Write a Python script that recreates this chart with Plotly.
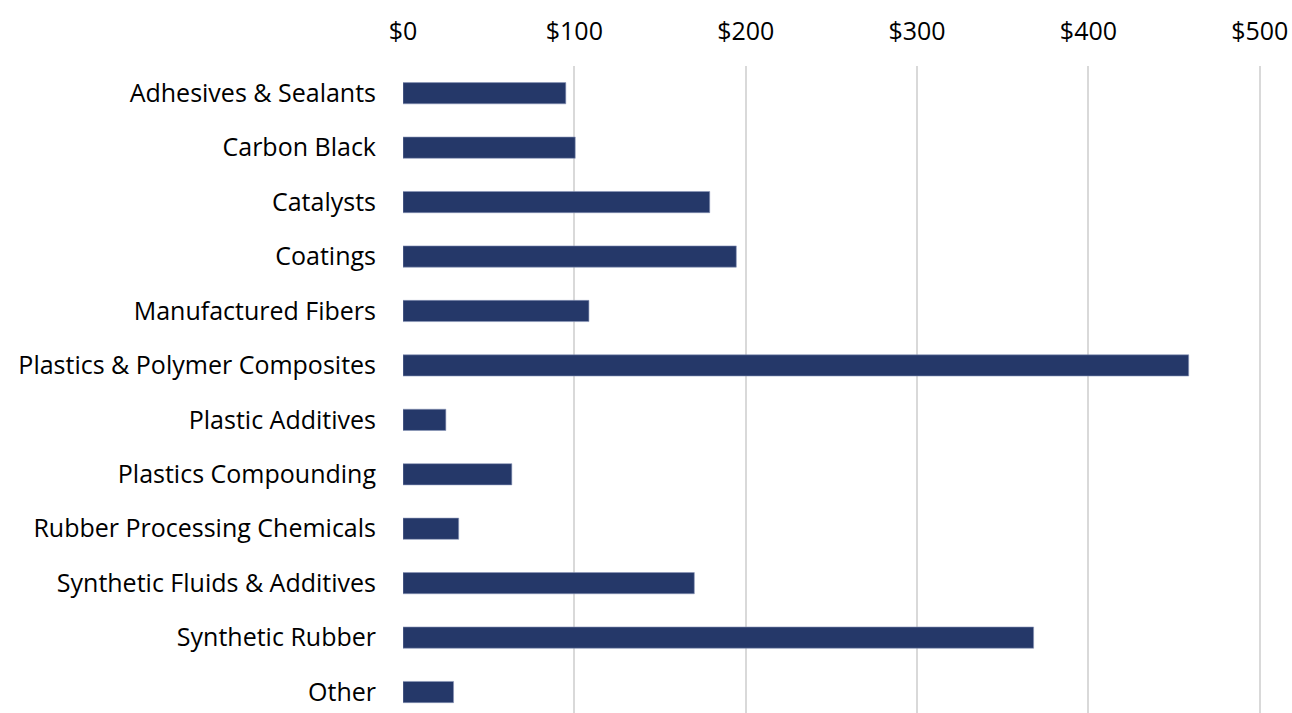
import plotly.graph_objects as go

categories = ["Adhesives & Sealants", "Carbon Black", "Catalysts", "Coatings",
              "Manufactured Fibers", "Plastics & Polymer Composites", "Plastic Additives",
              "Plastics Compounding", "Rubber Processing Chemicals",
              "Synthetic Fluids & Additives", "Synthetic Rubber", "Other"]
values = [95, 100.5, 179, 194.5, 108.5, 458.5, 25, 63.5, 32.5, 170, 368, 29.5]
tick_vals = [0, 100, 200, 300, 400, 500]
tick_text = ["$0", "$100", "$200", "$300", "$400", "$500"]

fig = go.Figure(go.Bar(
    y=categories, x=values, orientation="h",
    marker=dict(color="#253869", line=dict(color="#8a96b8", width=0.6)),
    width=0.39,
))

fig.update_layout(
    width=1292, height=713,
    margin=dict(l=403, r=31, t=66, b=0),
    paper_bgcolor="white", plot_bgcolor="white",
    font=dict(family="Open Sans", size=25, color="#000000"),
    showlegend=False,
    xaxis=dict(side="top", range=[0, 500.7], tickvals=tick_vals, ticktext=tick_text,
               showgrid=True, gridcolor="#d9d9d9", gridwidth=1.5, zeroline=False,
               showline=False, ticks="", ticklabelstandoff=20,
               ticklabeloverflow="allow", tickfont=dict(size=25)),
    yaxis=dict(categoryorder="array", categoryarray=categories,
               range=[11.385, -0.5], showgrid=False, zeroline=False, showline=False,
               ticks="", ticklabelstandoff=26, tickfont=dict(size=25)),
)

fig.write_html(
    "out.html",
    config={"displayModeBar": False},
    post_script="document.body.style.margin='0';document.body.style.overflow='hidden';",
)
